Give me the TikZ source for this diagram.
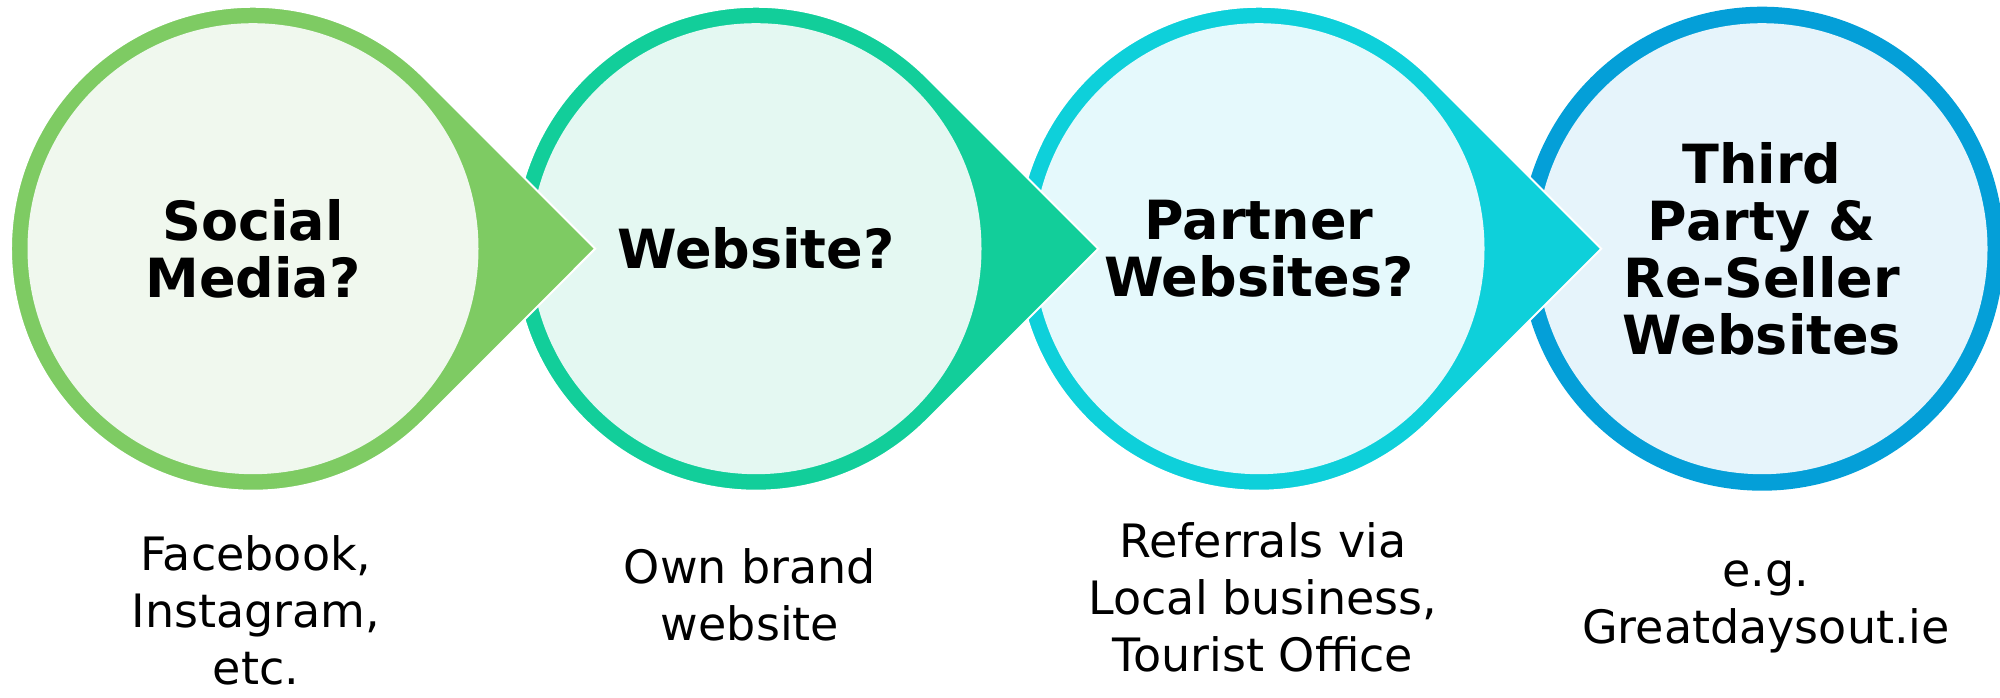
\documentclass[tikz,border=0pt]{standalone}
\usepackage{fontspec}
\setmainfont{DejaVu Sans}
\definecolor{ringA}{HTML}{7ECB63}
\definecolor{fillA}{HTML}{F0F8EE}
\definecolor{ringB}{HTML}{12CE9A}
\definecolor{fillB}{HTML}{E4F8F2}
\definecolor{ringC}{HTML}{0ED0DA}
\definecolor{fillC}{HTML}{E5F9FC}
\definecolor{ringD}{HTML}{049FD8}
\definecolor{fillD}{HTML}{E6F4FB}
\newcommand\tdshape[2]{%
  \fill[#2, draw=white, line width=1pt] (#1+342.2,448.3) -- (#1+171.1,448.3+171.1)
    arc[start angle=45,end angle=315,radius=121pt] -- cycle;
}
\begin{document}
\begin{tikzpicture}[x=0.5pt,y=0.5pt,
  innercirc/.style={circle, inner sep=0pt, outer sep=0pt, minimum size=225.5pt,
    align=center, font=\bfseries\fontsize{27}{28.5}\selectfont, text=black},
  sublabel/.style={align=center, inner sep=0pt, font=\fontsize{23}{28.5}\selectfont, text=black}]
\useasboundingbox (0,0) rectangle (2000,697);
% right to left so that each pointer lies over the next circle
\fill[ringD] (1762,448.3) circle[radius=121pt];
\node[innercirc, fill=fillD] (c4) at (1762,448.3) {Third\\Party \&\\Re-Seller\\Websites};
\tdshape{1259}{ringC}
\node[innercirc, fill=fillC] (c3) at (1259,448.3) {Partner\\Websites?};
\tdshape{756}{ringB}
\node[innercirc, fill=fillB] (c2) at (756,448.3) {Website?};
\tdshape{253}{ringA}
\node[innercirc, fill=fillA] (c1) at (253,448.3) {Social\\Media?};
% labels
\node[sublabel] (l1) at (256,87) {Facebook,\\Instagram,\\etc.};
\node[sublabel] (l2) at (750,102) {Own brand\\website};
\node[sublabel] (l3) at (1263,100) {Referrals via\\Local business,\\Tourist Office};
\node[sublabel] (l4) at (1766,90.5) {e.g.\\Greatdaysout.ie};
\end{tikzpicture}
\end{document}
